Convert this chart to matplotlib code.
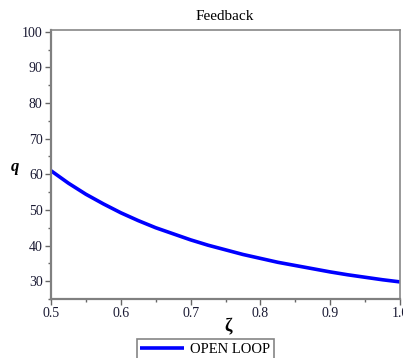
import numpy as np
import matplotlib
matplotlib.use('Agg')
import matplotlib.pyplot as plt
from matplotlib.ticker import MultipleLocator

# values
zeta = [0.500, 0.525, 0.550, 0.575, 0.600, 0.625, 0.650, 0.675, 0.700, 0.725,
        0.750, 0.775, 0.800, 0.825, 0.850, 0.875, 0.900, 0.925, 0.950, 0.975, 1.000]
q = [61.0, 57.5, 54.4, 51.7, 49.2, 47.0, 45.0, 43.3, 41.6, 40.1,
     38.8, 37.5, 36.4, 35.3, 34.4, 33.5, 32.6, 31.8, 31.1, 30.4, 29.8]

plt.rcParams['font.family'] = ['Liberation Serif', 'DejaVu Serif']

fig = plt.figure(figsize=(4.03, 3.58), dpi=100)
ax = fig.add_axes([51/403, 1 - 299/358, 349/403, 269/358])

ax.plot(zeta, q, color='#0000ff', lw=2.6, label='OPEN LOOP',
        solid_capstyle='butt')
ax.set_xlim(0.5, 1.0)
ax.set_ylim(25, 100.5)

ax.xaxis.set_major_locator(MultipleLocator(0.1))
ax.xaxis.set_minor_locator(MultipleLocator(0.05))
ax.yaxis.set_minor_locator(MultipleLocator(5))
ax.set_yticks(np.arange(30, 101, 10))
ax.tick_params(which='major', length=4, width=1, color='#666666',
               labelsize=10, labelcolor='#1a1a33', pad=2)
ax.tick_params(which='minor', length=2.5, width=1, color='#666666')
ax.tick_params(top=False, right=False)

for s in ['left', 'bottom']:
    ax.spines[s].set_color('#808080')
    ax.spines[s].set_linewidth(1.6)
for s in ['top', 'right']:
    ax.spines[s].set_color('#888888')
    ax.spines[s].set_linewidth(1.2)

fig.text(225/403, 1 - 17/358, 'Feedback', ha='center', va='center', fontsize=11)
fig.text(15/403, 1 - 167/358, 'q', ha='center', va='center', fontsize=12,
         fontweight='bold', style='italic')
fig.text(228/403, 1 - 327/358, 'ζ', ha='center', va='center', fontsize=13,
         fontweight='bold')

leg = fig.legend(loc='upper center', bbox_to_anchor=(205/403, 1 - 339/358),
                 fontsize=10.5, frameon=True, fancybox=False, handlelength=3,
                 borderpad=0.25, handletextpad=0.4, borderaxespad=0)
leg.get_frame().set_edgecolor('#666666')
leg.get_frame().set_linewidth(1.2)

fig.savefig('out.png', dpi=100)
